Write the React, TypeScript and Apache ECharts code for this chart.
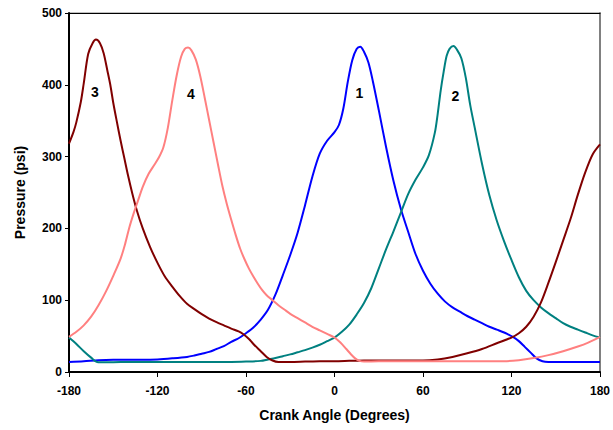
import React, { useEffect, useRef } from "react";
import * as echarts from "echarts";

const xTicks = [-180, -120, -60, 0, 60, 120, 180];
const yTicks = [0, 100, 200, 300, 400, 500];

// Cylinder 1 (blue)
const cyl1: [number, number][] = [
  [-180, 14], [-170, 15], [-160, 16.5], [-150, 17], [-140, 17], [-130, 17], [-120, 17.5], [-110, 19],
  [-100, 21], [-95, 23], [-90, 25.5], [-85, 28], [-80, 32], [-75, 36], [-70, 42], [-65, 47],
  [-60, 54], [-55, 62], [-50, 73], [-45, 87], [-40, 108], [-35, 135], [-30, 163], [-25, 194],
  [-20, 232], [-15, 272], [-10, 304], [-5, 322], [0, 334], [3, 344], [6, 367], [9, 404],
  [12, 434], [15, 450], [17.5, 453], [20, 446], [23, 431], [26, 405], [30, 365], [35, 313],
  [40, 266], [45, 227], [50, 195], [55, 164], [60, 141], [65, 123], [70, 109], [75, 98],
  [80, 90], [85, 84], [90, 78], [95, 73], [100, 68], [105, 63], [110, 59], [115, 55],
  [118, 52], [121, 49], [125, 43], [129, 35], [133, 27], [137, 19], [141, 15], [145, 14],
  [150, 14], [160, 14], [170, 14], [180, 14],
];

// Cylinder 2 (teal)
const cyl2: [number, number][] = [
  [-180, 48], [-175, 39], [-170, 29], [-165, 20], [-161, 14], [-155, 13.5], [-145, 14], [-130, 14],
  [-115, 14], [-100, 14], [-85, 14], [-70, 14], [-60, 14.5], [-50, 15.5], [-45, 17.5], [-40, 19.5],
  [-35, 22], [-30, 24.5], [-25, 27.5], [-20, 30.5], [-15, 34], [-10, 38], [-5, 43], [0, 48],
  [5, 56], [10, 66], [15, 80], [20, 96], [25, 117], [30, 144], [35, 171], [40, 196],
  [45, 222], [50, 248], [55, 268], [60, 285], [64, 302], [68, 333], [70, 360], [72, 392],
  [74, 418], [76, 440], [78, 450], [80.7, 454], [83, 449], [86, 437], [89, 410], [92, 372],
  [95, 341], [100, 290], [105, 246], [110, 211], [115, 182], [120, 156], [125, 132], [130, 113],
  [135, 100], [140, 90], [145, 82], [150, 75], [155, 68], [160, 63], [165, 59], [170, 55],
  [175, 51], [180, 48],
];

// Cylinder 3 (dark red)
const cyl3: [number, number][] = [
  [-180, 318], [-177, 334], [-175, 348], [-172, 376], [-170, 402], [-167, 443], [-164, 458],
  [-161.7, 463], [-159, 458], [-156.5, 444], [-154, 420], [-152, 400], [-150, 375], [-147.5, 348],
  [-145, 322], [-142.5, 298], [-140, 274], [-137, 248], [-134, 225], [-130, 200], [-125, 174],
  [-120, 152], [-115, 133], [-110, 119], [-105, 106], [-100, 95], [-95, 87.5], [-90, 80.5],
  [-85, 74.5], [-80, 69.5], [-75, 65], [-70, 60.5], [-65, 56.5], [-62, 53], [-58, 46], [-55, 39],
  [-50, 29], [-46, 21], [-42, 16], [-38, 14], [-30, 14], [-20, 14.5], [-10, 15], [0, 15],
  [10, 15.5], [20, 16], [30, 16], [40, 16], [50, 16], [60, 16], [70, 17.5], [80, 21],
  [90, 26], [100, 32], [110, 40], [120, 48], [125, 54], [130, 63], [135, 77], [140, 97],
  [145, 124], [150, 153], [155, 183], [160, 213], [165, 247], [170, 278], [175, 303], [180, 317],
];

// Cylinder 4 (pink)
const cyl4: [number, number][] = [
  [-180, 49], [-175, 56], [-170, 65], [-165, 77], [-160, 93], [-155, 112], [-150, 134], [-145, 158],
  [-142, 178], [-139, 202], [-136, 222], [-133, 240], [-130, 258], [-126, 276], [-122, 289], [-119, 299],
  [-116, 313], [-113, 340], [-110, 378], [-107, 413], [-104, 439], [-101.5, 450], [-99.3, 452], [-97, 448],
  [-94, 435], [-91, 412], [-88, 382], [-85, 351], [-82, 320], [-79, 289], [-76, 259], [-73, 234],
  [-70, 212], [-67, 191], [-64, 172], [-61, 157], [-58, 144], [-55, 133], [-52, 123], [-49, 114],
  [-46, 107], [-42, 100], [-38, 93], [-34, 87], [-30, 81], [-25, 75], [-20, 69], [-15, 63],
  [-10, 58], [-5, 53], [0, 48], [4, 41], [8, 32], [11, 25], [14, 19], [17, 15.5],
  [20, 14.5], [30, 15], [45, 15], [60, 15], [75, 15], [90, 15], [105, 15], [115, 15],
  [125, 16.5], [135, 19.5], [145, 23.5], [155, 29], [165, 35.5], [172, 41], [180, 49],
];

const seriesNames = ["1", "2", "3", "4"];
const seriesColors = ["#0000FF", "#008080", "#800000", "#FF8080"];
const seriesData = [cyl1, cyl2, cyl3, cyl4];
// label anchor positions in data units (deg, psi)
const labelAt: [number, number][] = [[16.9, 388], [81.9, 384], [-162.4, 390], [-97.4, 387]];

const FONT = 'Arial, "Liberation Sans", sans-serif';

export default function App() {
  const ref = useRef<HTMLDivElement>(null);
  useEffect(() => {
    if (!ref.current) return;
    const chart = echarts.init(ref.current, undefined, { renderer: "svg" });
    chart.setOption({
      animation: false,
      backgroundColor: "#ffffff",
      grid: {
        left: 69, right: 12, top: 13, bottom: 58,
        show: true, borderColor: "#808080", borderWidth: 1,
      },
      xAxis: [
        {
          type: "value", min: -180, max: 180, interval: 60,
          name: "Crank Angle (Degrees)", nameLocation: "middle", nameGap: 36,
          nameTextStyle: { fontFamily: FONT, fontWeight: "bold", fontSize: 14, color: "#000" },
          axisLine: { show: true, onZero: false, lineStyle: { color: "#000", width: 2 } },
          axisTick: { show: true, length: 5, lineStyle: { color: "#000", width: 1 } },
          axisLabel: {
            fontFamily: FONT, fontWeight: "bold", fontSize: 12, color: "#000", margin: 13,
            formatter: (v: number) => (xTicks.includes(v) ? String(v) : ""),
          },
          splitLine: { show: false },
        },
        {
          type: "value", min: -180, max: 180, position: "top",
          axisLine: { show: true, onZero: false, lineStyle: { color: "#000", width: 1 } },
          axisTick: { show: false }, axisLabel: { show: false }, splitLine: { show: false },
        },
      ],
      yAxis: [
        {
          type: "value", min: 0, max: 500, interval: 100,
          name: "Pressure (psi)", nameLocation: "middle", nameGap: 42, nameRotate: 90,
          nameTextStyle: { fontFamily: FONT, fontWeight: "bold", fontSize: 14, color: "#000" },
          axisLine: { show: true, onZero: false, lineStyle: { color: "#000", width: 2 } },
          axisTick: { show: true, length: 4, lineStyle: { color: "#000", width: 1 } },
          axisLabel: {
            fontFamily: FONT, fontWeight: "bold", fontSize: 12, color: "#000", margin: 7,
            formatter: (v: number) => (yTicks.includes(v) ? String(v) : ""),
          },
          splitLine: { show: false },
        },
        {
          type: "value", min: 0, max: 500, position: "right",
          axisLine: { show: true, onZero: false, lineStyle: { color: "#808080", width: 2 } },
          axisTick: { show: false }, axisLabel: { show: false }, splitLine: { show: false },
        },
      ],
      series: seriesData.map((d, i) => ({
        type: "line",
        name: seriesNames[i],
        data: d,
        showSymbol: false,
        smooth: 0.3,
        lineStyle: { color: seriesColors[i], width: 2 },
        itemStyle: { color: seriesColors[i] },
        markPoint: {
          symbol: "circle",
          symbolSize: 0,
          data: [{
            coord: labelAt[i],
            label: {
              show: true, formatter: seriesNames[i], position: "inside",
              fontFamily: FONT, fontWeight: "bold", fontSize: 14, color: "#000",
            },
          }],
        },
      })),
    });
    return () => chart.dispose();
  }, []);
  return (
    <div
      ref={ref}
      style={{ position: "fixed", left: 0, top: 0, width: 613, height: 430, background: "#fff" }}
    />
  );
}
